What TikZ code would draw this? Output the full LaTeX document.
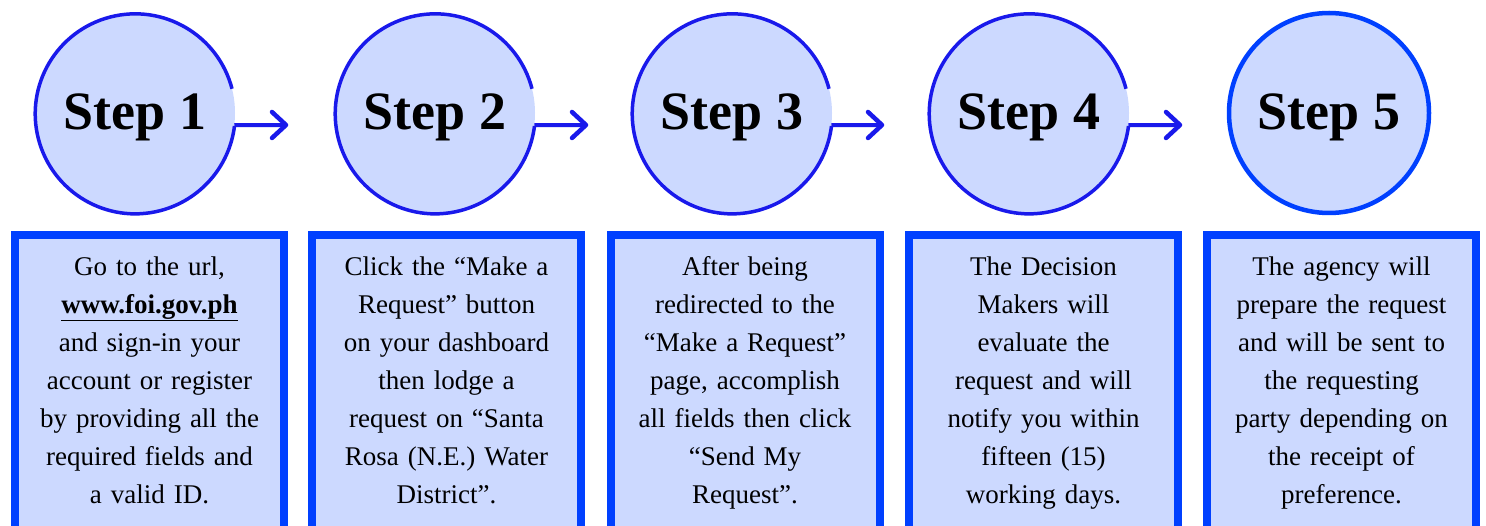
\documentclass[tikz,border=0pt]{standalone}
\usepackage{fontspec}
\setmainfont{Liberation Serif}
\definecolor{fillblue}{RGB}{204,217,255}
\definecolor{circblue}{RGB}{25,25,235}
\definecolor{boxblue}{RGB}{0,64,255}
\tikzset{
  stepcirc/.style={circle, fill=fillblue, minimum size=200pt, inner sep=0pt, outer sep=0pt},
  circline/.style={draw=circblue, line width=3.5pt},
  steplabel/.style={font=\fontsize{54}{60}\selectfont\bfseries, inner sep=0pt, anchor=base},
  arr/.style={draw=circblue, line width=4pt},
  arrhead/.style={draw=circblue, line width=4.5pt, line cap=round, line join=round},
  stepbox/.style={draw=boxblue, fill=fillblue, line width=8pt, minimum width=269pt, minimum height=340pt, inner sep=0pt, outer sep=0pt, anchor=north west},
  boxtext/.style={font=\fontsize{27}{38}\selectfont, text width=262pt, align=center, inner sep=0pt, anchor=north}
}
\begin{document}
\begin{tikzpicture}[x=1pt,y=1pt]
\useasboundingbox (0,0) rectangle (1486,525);
\clip (0,0) rectangle (1486,525);
% circles
\foreach \i/\cx in {1/135,2/435,3/732,4/1029}{
  \node[stepcirc] (c\i) at (\cx,412) {};
  \draw[circline] (c\i.14.5) arc[start angle=14.5, end angle=353, radius=100pt];
}
\node[stepcirc, draw=boxblue, line width=4.5pt] (c5) at (1329,412) {};
% labels
\foreach \i in {1,...,5}{
  \node[steplabel] (l\i) at ([yshift=-17pt]c\i.center) {Step \i};
}
% arrows
\foreach \i/\ex in {1/286,2/586,3/882,4/1180}{
  \coordinate (e\i) at (\ex,400);
  \draw[arr] (c\i.-7) -- (e\i);
  \draw[arrhead] ([shift={(-14pt,13pt)}]e\i) -- (e\i) -- ([shift={(-14pt,-13pt)}]e\i);
}
% boxes
\foreach \i/\bx in {1/15,2/312,3/610.5,4/909,5/1207}{
  \node[stepbox] (b\i) at (\bx,290) {};
}
\node[boxtext] (t1) at ([yshift=-13.5pt]b1.north) {\strut Go to the url,\\ \underline{\textbf{www.foi.gov.ph}}\\ and sign-in your\\ account or register\\ by providing all the\\ required fields and\\ a valid ID.};
\node[boxtext] (t2) at ([yshift=-13.5pt]b2.north) {\strut Click the “Make a\\ Request” button\\ on your dashboard\\ then lodge a\\ request on “Santa\\ Rosa (N.E.) Water\\ District”.};
\node[boxtext] (t3) at ([yshift=-13.5pt]b3.north) {\strut After being\\ redirected to the\\ “Make a Request”\\ page, accomplish\\ all fields then click\\ “Send My\\ Request”.};
\node[boxtext] (t4) at ([yshift=-13.5pt]b4.north) {\strut The Decision\\ Makers will\\ evaluate the\\ request and will\\ notify you within\\ fifteen (15)\\ working days.};
\node[boxtext] (t5) at ([yshift=-13.5pt]b5.north) {\strut The agency will\\ prepare the request\\ and will be sent to\\ the requesting\\ party depending on\\ the receipt of\\ preference.};
\end{tikzpicture}
\end{document}
